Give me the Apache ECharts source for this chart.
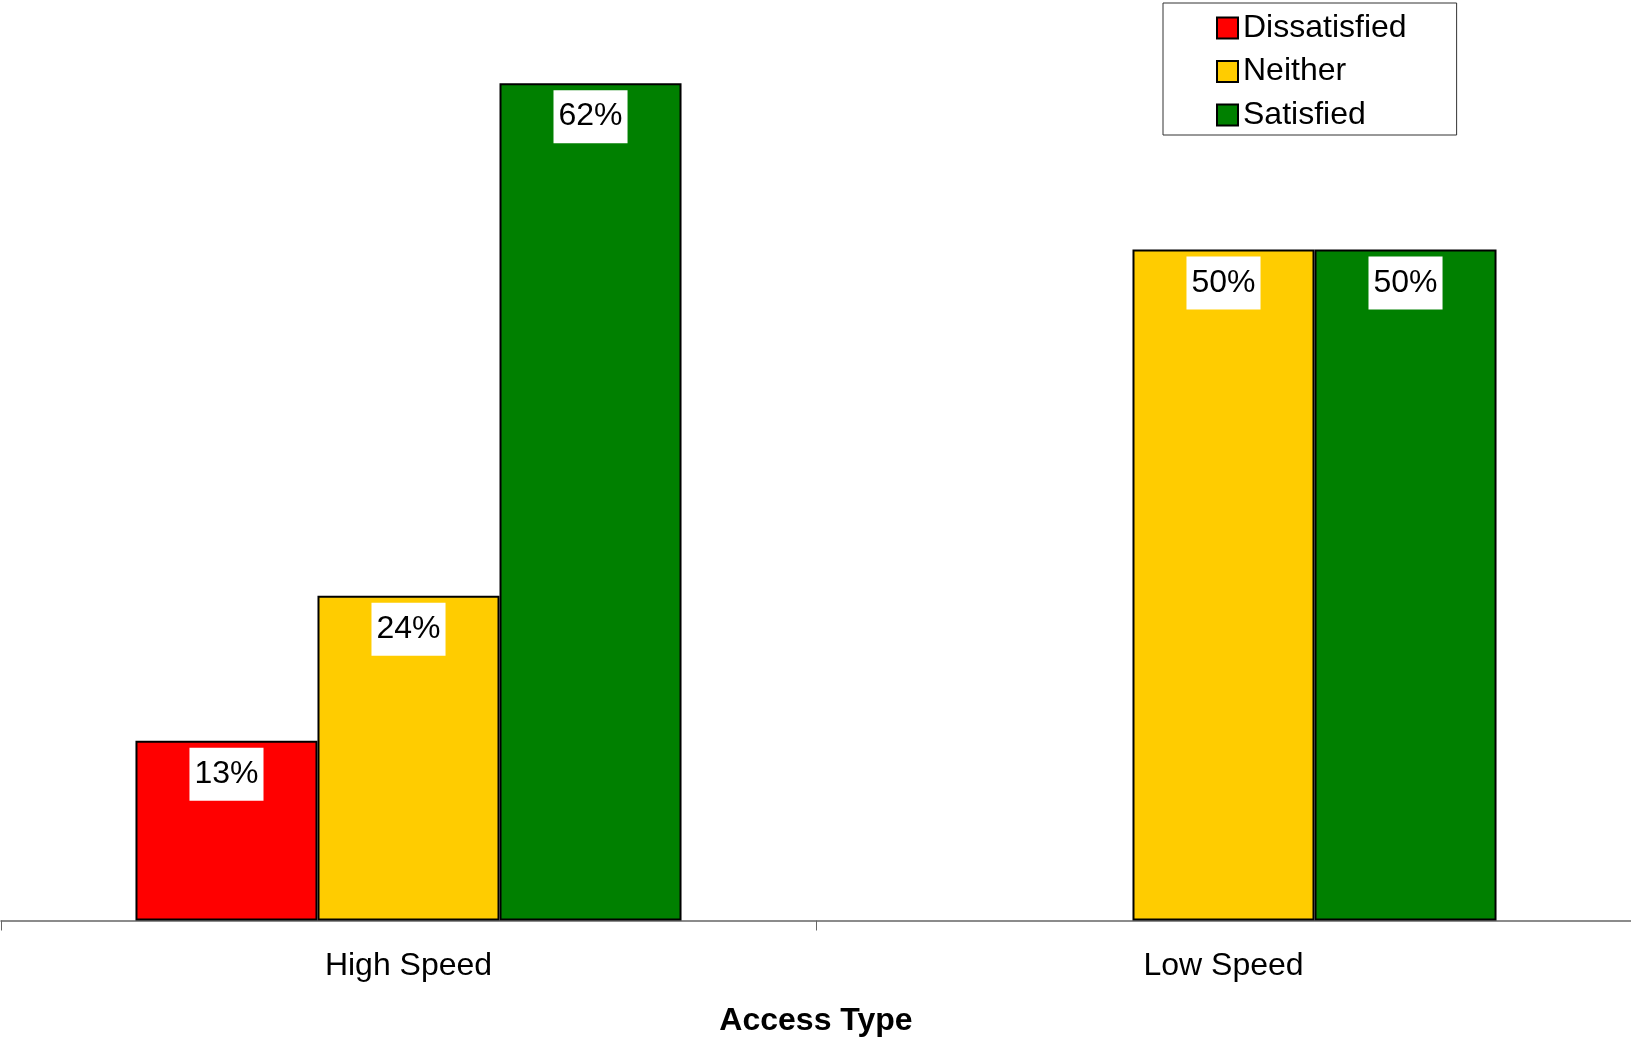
<!DOCTYPE html>
<html>
<head>
<meta charset="utf-8">
<script src="https://cdn.jsdelivr.net/npm/echarts@6/dist/echarts.min.js"></script>
<style>
html,body{margin:0;padding:0;background:#fff;}
#chart{width:1631px;height:1038px;}
</style>
</head>
<body>
<div id="chart"></div>
<script>
const categories = ['High Speed', 'Low Speed'];
const seriesNames = ['Dissatisfied', 'Neither', 'Satisfied'];
const dissatisfied = [13.4, null];
const neither = [24.2, 50];
const satisfied = [62.4, 50];
const seriesColors = ['#FF0000', '#FFCC00', '#008000'];
const axisTitle = 'Access Type';

const FONT = '"Liberation Sans", Arial, sans-serif';
const seriesData = [dissatisfied, neither, satisfied];

const chart = echarts.init(document.getElementById('chart'));
chart.setOption({
  animation: false,
  backgroundColor: '#ffffff',
  textStyle: { fontFamily: FONT },
  grid: { left: 1, right: 0, top: 8, bottom: 117.5, containLabel: false, outerBoundsMode: 'none' },
  legend: {
    left: 1163, top: 3,
    orient: 'vertical',
    data: seriesNames,
    icon: 'rect',
    itemWidth: 21, itemHeight: 21,
    itemGap: 11.5,
    borderColor: '#333', borderWidth: 1,
    padding: [9, 50, 4, 53],
    textStyle: { fontSize: 32, color: '#000', fontFamily: FONT, lineHeight: 32, padding: [0, 0, 0, 0] }
  },
  xAxis: {
    type: 'category',
    data: categories,
    name: axisTitle,
    nameLocation: 'middle',
    nameGap: 85,
    nameTextStyle: { fontSize: 32, fontWeight: 'bold', color: '#000', fontFamily: FONT },
    axisLine: { lineStyle: { color: '#666', width: 1.5 } },
    axisTick: { show: true, length: 10, lineStyle: { color: '#666', width: 1 } },
    axisLabel: { fontSize: 32, color: '#000', margin: 30, fontFamily: FONT }
  },
  yAxis: { type: 'value', min: 0, max: 68, show: false, splitLine: { show: false } },
  series: seriesNames.map((n, i) => ({
    name: n,
    type: 'bar',
    data: seriesData[i],
    barGap: '0%',
    barCategoryGap: '33%',
    itemStyle: { color: seriesColors[i], borderColor: '#000', borderWidth: 2 },
    label: {
      show: true,
      position: 'insideTop',
      distance: 7,
      formatter: p => (p.value == null ? '' : Math.round(p.value) + '%'),
      fontSize: 32,
      lineHeight: 33,
      color: '#000',
      fontFamily: FONT,
      backgroundColor: '#fff',
      padding: [10, 5, 10, 5]
    }
  }))
});
</script>
</body>
</html>
